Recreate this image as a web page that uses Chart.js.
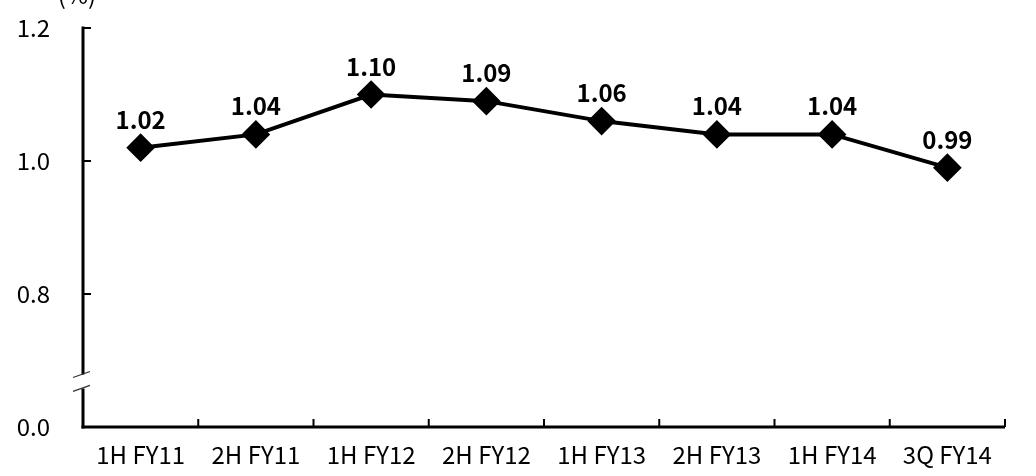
<!DOCTYPE html>
<html><head><meta charset="utf-8">
<script src="https://cdn.jsdelivr.net/npm/chart.js@4"></script>
<style>html,body{margin:0;padding:0;background:#fff;}#wrap{width:1036px;height:476px;}</style>
</head><body><div id="wrap"><canvas id="c" width="1036" height="476"></canvas></div>
<script>
const categories = ['1H FY11','2H FY11','1H FY12','2H FY12','1H FY13','2H FY13','1H FY14','3Q FY14'];
const values = [1.02,1.04,1.10,1.09,1.06,1.04,1.04,0.99];
// broken axis: bottom position (0.6 on the plotting scale) is labelled 0.0
const tickValues = [0.6,0.8,1.0,1.2];
const tickLabels = ['0.0','0.8','1.0','1.2'];
const unitLabel = '(%)';
const FONT = '"Noto Sans CJK JP","Noto Sans",sans-serif';

const decor = {
  id:'decor',
  afterDraw(chart){
    const ctx = chart.ctx, x = chart.scales.x, y = chart.scales.y, a = chart.chartArea;
    ctx.save();
    ctx.strokeStyle = '#000'; ctx.lineWidth = 3; ctx.lineCap = 'butt';
    const gapTop = y.getPixelForValue(0.679), gapBot = y.getPixelForValue(0.658);
    ctx.beginPath();
    ctx.moveTo(a.left, a.top - 1.5); ctx.lineTo(a.left, gapTop);
    ctx.moveTo(a.left, gapBot); ctx.lineTo(a.left, a.bottom + 1.5);
    ctx.stroke();
    ctx.beginPath(); ctx.moveTo(a.left - 1.5, a.bottom); ctx.lineTo(a.right, a.bottom); ctx.stroke();
    ctx.lineWidth = 2;
    tickValues.forEach(v => { if (v === tickValues[0]) return; const py = y.getPixelForValue(v); ctx.beginPath(); ctx.moveTo(a.left, py); ctx.lineTo(a.left + 8, py); ctx.stroke(); });
    const half = (x.getPixelForValue(1) - x.getPixelForValue(0)) / 2;
    for (let i = 1; i <= categories.length; i++) {
      const px = x.getPixelForValue(i) - half;
      ctx.beginPath(); ctx.moveTo(px, a.bottom); ctx.lineTo(px, a.bottom - 8); ctx.stroke();
    }
    ctx.lineWidth = 1.2; ctx.strokeStyle = '#333';
    [gapTop, gapBot].forEach(py => { ctx.beginPath(); ctx.moveTo(a.left - 10, py + 3); ctx.lineTo(a.left + 7, py - 3); ctx.stroke(); });
    const meta = chart.getDatasetMeta(0);
    ctx.fillStyle = '#000'; ctx.font = 'bold 24px ' + FONT; ctx.textAlign = 'center'; ctx.textBaseline = 'alphabetic';
    meta.data.forEach((p, i) => ctx.fillText(values[i].toFixed(2), p.x, p.y - 19));
    ctx.font = '24px ' + FONT; ctx.textBaseline = 'middle';
    ctx.fillText(unitLabel, a.left - 6, a.top - 33);
    ctx.restore();
  }
};

new Chart(document.getElementById('c'), {
  type:'line',
  data:{ labels:categories, datasets:[{ data:values, borderColor:'#000', backgroundColor:'#000', borderWidth:4,
    pointStyle:'rectRot', pointRadius:11.5, pointHoverRadius:11.5, tension:0 }]},
  options:{
    responsive:false, animation:false, devicePixelRatio:1,
    layout:{ autoPadding:false, padding:{ top:28, right:31, left:0, bottom:0 } },
    plugins:{ legend:{display:false}, tooltip:{enabled:false} },
    scales:{
      x:{ offset:true, grid:{display:false, drawTicks:false}, border:{display:false},
        ticks:{ color:'#000', font:{family:FONT, size:24}, padding:13, maxRotation:0, autoSkip:false },
        afterFit(s){ s.height = 49; s.paddingLeft = 0; s.paddingRight = 0; } },
      y:{ min:0.6, max:1.2, grid:{display:false, drawTicks:false}, border:{display:false},
        afterBuildTicks(s){ s.ticks = tickValues.map(v => ({value:v})); },
        ticks:{ color:'#000', font:{family:FONT, size:24}, padding:33,
          callback(v){ const i = tickValues.findIndex(t => Math.abs(t - v) < 1e-9); return i >= 0 ? tickLabels[i] : ''; } },
        afterFit(s){ s.width = 83; s.paddingTop = 0; s.paddingBottom = 0; } }
    }
  },
  plugins:[decor]
});
</script></body></html>
